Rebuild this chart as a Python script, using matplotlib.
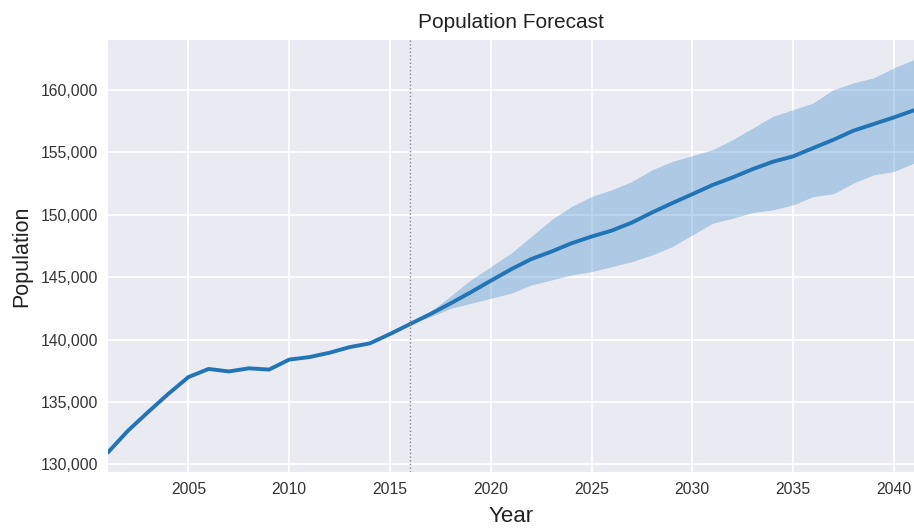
import numpy as np
import matplotlib
matplotlib.use("Agg")
import matplotlib.pyplot as plt
from matplotlib.ticker import FuncFormatter

# historic population, 2001-2016
hist_years = list(range(2001, 2017))
hist_pop = [130950, 132700, 134200, 135650, 137000, 137650, 137450, 137700,
            137600, 138400, 138600, 138950, 139400, 139700, 140450, 141250]

# forecast 2016-2041: mean and band
fc_years = list(range(2016, 2042))
fc_mean = [141250, 142050, 142900, 143790, 144720, 145630, 146450, 147050,
           147720, 148260, 148740, 149380, 150190, 150940, 151660, 152390,
           153000, 153670, 154260, 154690, 155360, 156020, 156750, 157280,
           157810, 158380]
fc_upper = [141250, 142230, 143490, 144780, 145850, 146920, 148260, 149600,
            150670, 151470, 152010, 152680, 153610, 154280, 154740, 155220,
            156020, 156960, 157900, 158430, 158970, 160040, 160580, 160980,
            161780, 162450]
fc_lower = [141250, 141830, 142500, 142900, 143310, 143710, 144380, 144780,
            145180, 145450, 145850, 146250, 146790, 147450, 148390, 149330,
            149730, 150190, 150400, 150800, 151470, 151690, 152550, 153210,
            153480, 154150]

plt.style.use("seaborn-v0_8-darkgrid")
plt.rcParams['font.family'] = ['Liberation Sans', 'DejaVu Sans']

fig = plt.figure(figsize=(9.14, 5.29), dpi=100)
ax = fig.add_axes([0.118, 0.108, 0.882, 0.816])

line_col = '#2374b4'
ax.plot(hist_years, hist_pop, color=line_col, lw=2.8)
ax.fill_between(fc_years, fc_lower, fc_upper, color='#3d8ccc', alpha=0.35, lw=0)
ax.plot(fc_years, fc_mean, color=line_col, lw=2.8)
ax.axvline(2016, color='#888888', ls=':', lw=1)

ax.set_xlim(2001, 2041)
ax.set_ylim(129400, 164000)
ax.set_xticks(range(2005, 2045, 5))
ax.set_yticks(range(130000, 165000, 5000))
ax.yaxis.set_major_formatter(FuncFormatter(lambda v, p: f'{int(v):,}'))
ax.tick_params(labelsize=11.3, colors='#333333', pad=7)
ax.grid(color='white', lw=1.3)

ax.set_title('Population Forecast', fontsize=15, color='#222222', pad=9)
ax.set_xlabel('Year', fontsize=16, color='#222222', labelpad=7)
ax.set_ylabel('Population', fontsize=15.5, color='#222222', labelpad=6)

fig.savefig('out.png', dpi=100)
